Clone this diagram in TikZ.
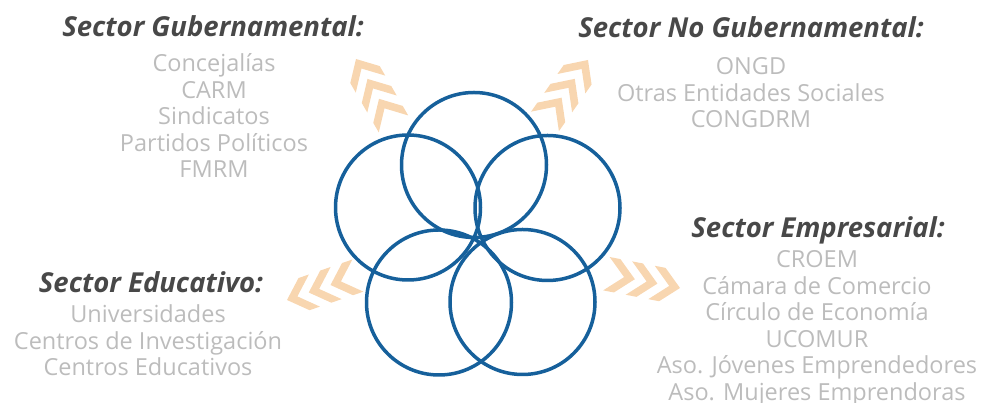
\documentclass[tikz,border=0pt]{standalone}
\usepackage{fontspec}
\setmainfont{Open Sans}

\definecolor{ringblue}{RGB}{22,96,155}
\definecolor{peach}{RGB}{248,214,176}
\definecolor{headgray}{RGB}{72,72,72}
\definecolor{itemgray}{RGB}{188,188,188}

\tikzset{
    ring/.style={draw=ringblue, line width=3.5pt},
    chev/.style={fill=peach},
    head/.style={anchor=base, text=headgray, font=\fontsize{27.5}{30}\selectfont\bfseries\itshape},
    item/.style={anchor=base, text=itemgray, font=\fontsize{23.5}{26.5}\selectfont},
}

\begin{document}
\begin{tikzpicture}[x=1pt,y=1pt]
    \useasboundingbox (0,0) rectangle (983,403);

    % chevrons
    \foreach \x/\y/\a in {356/344/120, 588/343/55, 680/115/-11, 287/103/199}{%
        \foreach \k in {0,1,2}
            \fill[chev, shift={(\x,\y)}, rotate=\a, xshift={-\k*23pt}]
                (0,0) -- (-18,17) -- (-29,17) -- (-11,0) -- (-29,-17) -- (-18,-17) -- cycle;}

    % rings
    \foreach \cx/\cy in {474/238, 408/195.5, 547.5/195, 439/100.5, 522.5/101}
        \draw[ring] (\cx,\cy) circle[radius=72.5];

    % sectors
    \node[head] (gub) at (213,366) {Sector Gubernamental:};
    \foreach \t [count=\i] in {Concejalías, CARM, Sindicatos, Partidos Políticos, FMRM}
        \node[item] (gub\i) at (214,357.5-26.5*\i) {\t};

    \node[head] (nogub) at (751,365) {Sector No Gubernamental:};
    \foreach \t [count=\i] in {ONGD, Otras Entidades Sociales, CONGDRM}
        \node[item] (nogub\i) at (751,354.5-26.5*\i) {\t};

    \node[head] (emp) at (818,165) {Sector Empresarial:};
    \foreach \t [count=\i] in {CROEM, Cámara de Comercio, Círculo de Economía, UCOMUR,
                               Aso. Jóvenes Emprendedores, Aso. Mujeres Emprendoras}
        \node[item] (emp\i) at (817,161.5-26.5*\i) {\t};

    \node[head] (edu) at (151,110) {Sector Educativo:};
    \foreach \t [count=\i] in {Universidades, Centros de Investigación, Centros Educativos}
        \node[item] (edu\i) at (148,106.5-26.5*\i) {\t};
\end{tikzpicture}
\end{document}
